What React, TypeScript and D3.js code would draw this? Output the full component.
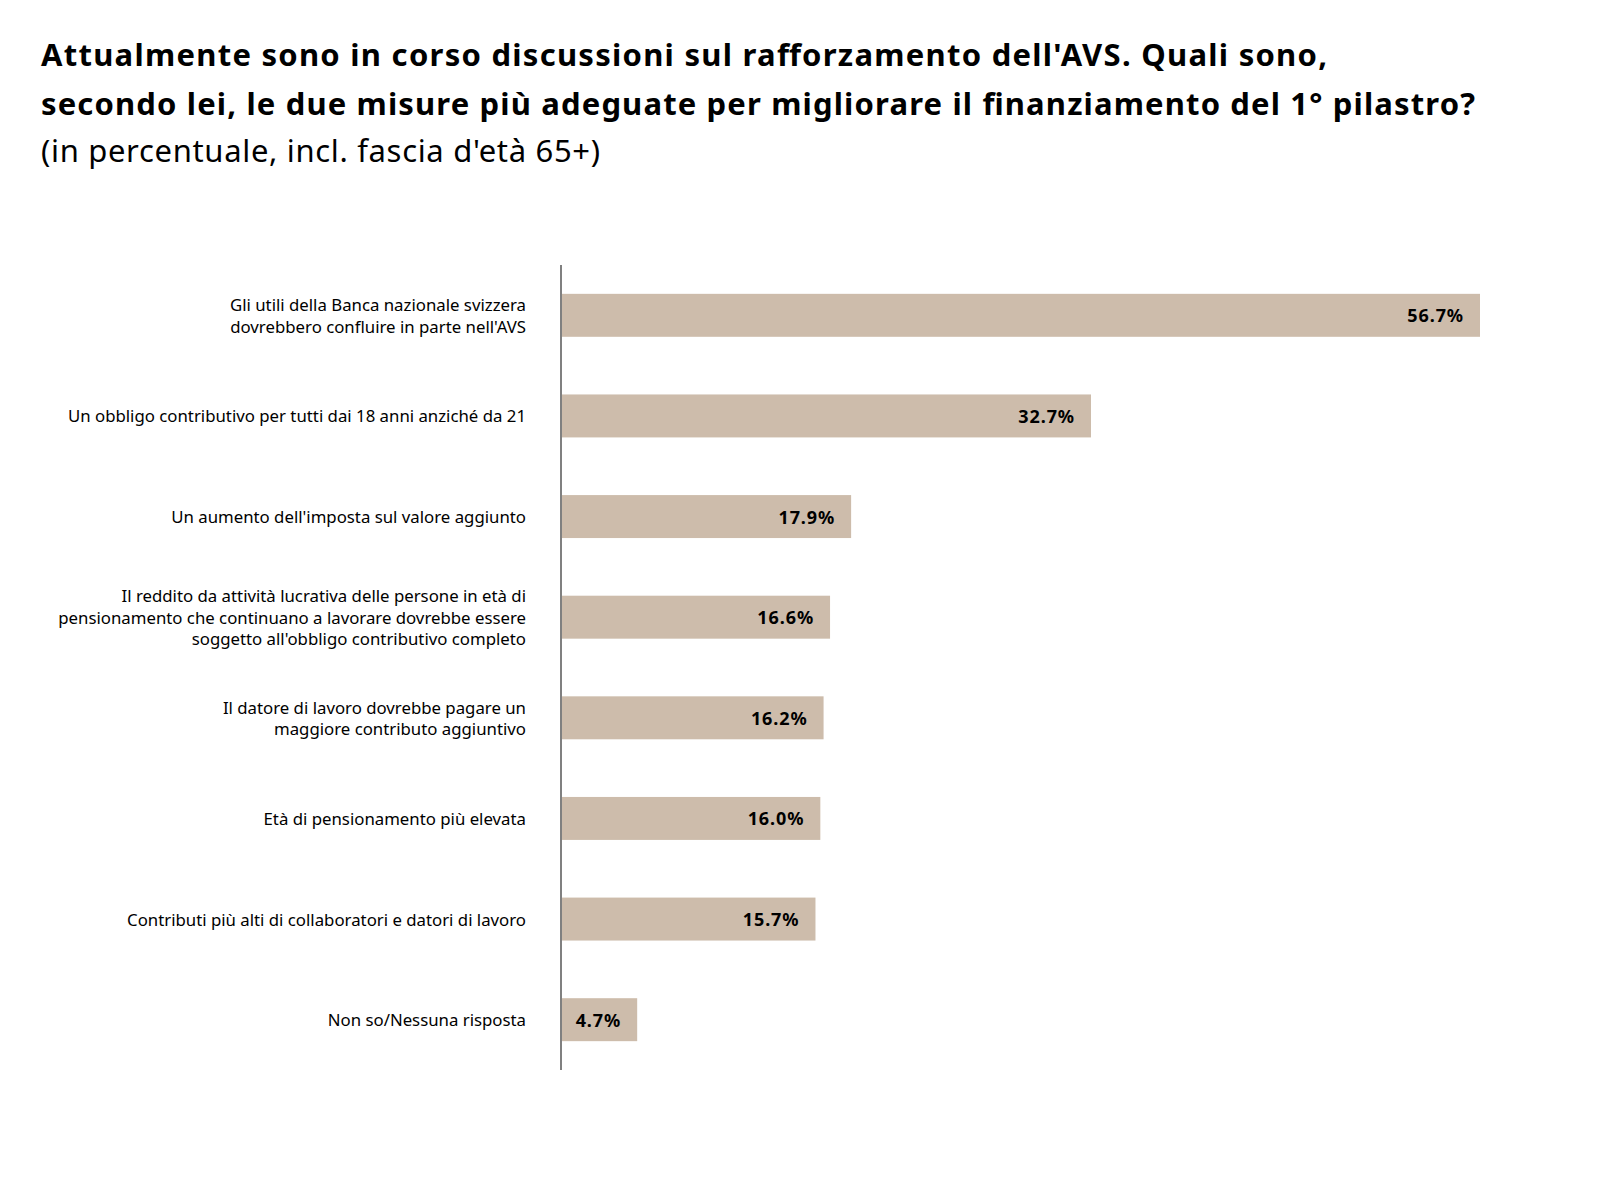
import React from "react";
import * as d3 from "d3";

const titleLines = [
  "Attualmente sono in corso discussioni sul rafforzamento dell'AVS. Quali sono,",
  "secondo lei, le due misure più adeguate per migliorare il finanziamento del 1° pilastro?",
];
const subtitle = "(in percentuale, incl. fascia d'età 65+)";

const categories: string[][] = [
  ["Gli utili della Banca nazionale svizzera", "dovrebbero confluire in parte nell'AVS"],
  ["Un obbligo contributivo per tutti dai 18 anni anziché da 21"],
  ["Un aumento dell'imposta sul valore aggiunto"],
  [
    "Il reddito da attività lucrativa delle persone in età di",
    "pensionamento che continuano a lavorare dovrebbe essere",
    "soggetto all'obbligo contributivo completo",
  ],
  ["Il datore di lavoro dovrebbe pagare un", "maggiore contributo aggiuntivo"],
  ["Età di pensionamento più elevata"],
  ["Contributi più alti di collaboratori e datori di lavoro"],
  ["Non so/Nessuna risposta"],
];
const values = [56.7, 32.7, 17.9, 16.6, 16.2, 16.0, 15.7, 4.7];
const valueLabels = ["56.7%", "32.7%", "17.9%", "16.6%", "16.2%", "16.0%", "15.7%", "4.7%"];

const FONT = "'Noto Sans', 'Open Sans', sans-serif";

export default function App() {
  const W = 1600;
  const H = 1201;
  const axisX = 561;
  const top = 265;
  const bottom = 1070;

  const x = d3.scaleLinear().domain([0, 60]).range([axisX, axisX + (919 / 56.7) * 60]);
  const ids = categories.map((_, i) => String(i));
  const y = d3
    .scaleBand<string>()
    .domain(ids)
    .range([top, bottom])
    .paddingInner(0.573)
    .paddingOuter(0.2865);

  const lineH = 21.5;
  const titleWidths = [1286, 1434];

  return (
    <svg
      width={W}
      height={H}
      viewBox={`0 0 ${W} ${H}`}
      style={{ position: "absolute", left: 0, top: 0, display: "block", background: "#fff" }}
      fontFamily={FONT}
    >
      <rect x={0} y={0} width={W} height={H} fill="#fff" />
      {titleLines.map((t, i) => (
        <text
          key={i}
          x={41}
          y={66 + i * 49}
          fontSize={31}
          fontWeight={700}
          fill="#000"
          textLength={titleWidths[i]}
          lengthAdjust="spacing"
        >
          {t}
        </text>
      ))}
      <text x={41} y={162} fontSize={31} fontWeight={400} fill="#000" textLength={559} lengthAdjust="spacing">
        {subtitle}
      </text>

      {values.map((v, i) => {
        const yb = y(String(i))!;
        const bw = y.bandwidth();
        const cy = yb + bw / 2;
        const lines = categories[i];
        const startY = cy - ((lines.length - 1) * lineH) / 2;
        return (
          <g key={i}>
            <rect x={x(0)} y={yb} width={x(v) - x(0)} height={bw} fill="#cdbcab" />
            <text
              x={x(v) - 16}
              y={cy}
              textAnchor="end"
              dominantBaseline="central"
              fontSize={18}
              fontWeight={700}
              letterSpacing={0.9}
              fill="#000"
            >
              {valueLabels[i]}
            </text>
            {lines.map((l, j) => (
              <text
                key={j}
                x={526}
                y={startY + j * lineH}
                textAnchor="end"
                dominantBaseline="central"
                fontSize={16.8}
                fill="#000"
              >
                {l}
              </text>
            ))}
          </g>
        );
      })}

      <line x1={axisX} x2={axisX} y1={top} y2={bottom} stroke="#808080" strokeWidth={2} />
    </svg>
  );
}
